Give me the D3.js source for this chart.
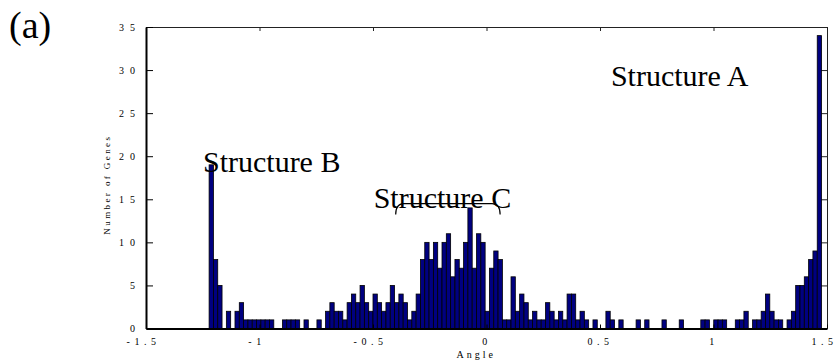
<!DOCTYPE html>
<html>
<head>
<meta charset="utf-8">
<script src="https://cdn.jsdelivr.net/npm/d3@7"></script>
<style>
  body { margin: 0; background: #fff; }
  text { font-family: "Liberation Serif", "Times New Roman", serif; fill: #000; }
</style>
</head>
<body>
<script>
// histogram of gene angles
// counts per bin, left to right, first bin starts at binStart
const binStart = -1.222;
const binWidth = 0.019;
const counts = [
  19, 8, 5, 0, 2, 0, 2, 3, 1, 1, 1, 1, 1, 1, 1, 0, 0, 1, 1, 1, 1, 0, 1, 0, 0, 1, 0, 2, 3, 2,
  2, 1, 3, 4, 3, 5, 3, 2, 4, 3, 2, 3, 5, 3, 4, 3, 1, 2, 4, 8, 10, 8, 10, 7, 10, 11, 6, 8, 7, 10,
  14, 7, 11, 10, 2, 7, 9, 8, 1, 1, 6, 2, 4,
  3, 1, 2, 1, 1, 3, 2, 1, 2, 1, 4, 4, 1, 2, 1, 0, 1, 0, 0, 2, 1, 0, 1, 0, 0, 0, 1, 0, 1, 0, 0, 0, 1,
  0, 0, 0, 1, 0, 0, 0, 0, 1, 1, 0, 1, 1, 1, 0, 0, 1, 1, 2, 0, 1, 1, 2, 4, 2, 1, 1, 0, 1, 2,
  5, 5, 6, 8, 9, 34
];
const xTicks = [-1.5, -1, -0.5, 0, 0.5, 1, 1.5];
const yTicks = [0, 5, 10, 15, 20, 25, 30, 35];

// annotations: label, x (angle), y (genes)
const notes = [
  {label: "Structure A", x: 0.548, y: 28.2},
  {label: "Structure B", x: -1.249, y: 18.2},
  {label: "Structure C", x: -0.497, y: 14.0}
];
const braceC = [-0.40, 0.06]; // span of structure C

let margin, width, height, svg, x, y;

setupCanvasSize();
appendSvg("body");
setupScales();
appendFrame();
appendBars();
appendAxes();
appendLabels();

function setupCanvasSize() {
  margin = {top: 27, left: 146, bottom: 35.5, right: 10};
  width = 837 - margin.left - margin.right;
  height = 364 - margin.top - margin.bottom;
}

function appendSvg(domElement) {
  let root = d3.select(domElement).append("svg")
    .attr("width", 837)
    .attr("height", 364);

  root.append("text")
    .attr("x", 9)
    .attr("y", 38)
    .style("font-size", "38px")
    .text("(a)");

  svg = root.append("g")
    .attr("transform", `translate(${margin.left}, ${margin.top})`);
}

function setupScales() {
  x = d3.scaleLinear().domain([-1.5, 1.5]).range([0, width]);
  y = d3.scaleLinear().domain([0, 35]).range([height, 0]);
}

function appendFrame() {
  // thin top and right border with inward ticks
  let top = svg.append("g")
    .call(d3.axisTop(x).tickValues(xTicks).tickSize(-4).tickSizeOuter(0).tickFormat(""));
  let right = svg.append("g")
    .attr("transform", `translate(${width},0)`)
    .call(d3.axisRight(y).tickValues(yTicks).tickSize(-6).tickSizeOuter(0).tickFormat(""));
  [top, right].forEach(g => {
    g.selectAll("path, line").attr("stroke", "#222").attr("stroke-width", 1);
  });
}

function appendBars() {
  let bw = x(binWidth) - x(0);
  svg.selectAll("rect.bar")
    .data(counts.map((c, i) => ({x0: binStart + i * binWidth, n: c})).filter(d => d.n > 0))
    .enter().append("rect")
    .attr("class", "bar")
    .attr("x", d => x(d.x0))
    .attr("y", d => y(d.n))
    .attr("width", bw)
    .attr("height", d => y(0) - y(d.n))
    .style("fill", "#000080")
    .style("stroke", "#000")
    .style("stroke-width", 0.8);
}

function appendAxes() {
  let left = svg.append("g")
    .call(d3.axisLeft(y).tickValues(yTicks).tickSize(-7).tickSizeOuter(0).tickPadding(5));
  left.selectAll("text")
    .style("font-size", "10px")
    .style("letter-spacing", "6px")
    .style("font-family", "'Liberation Serif', serif");

  let bottom = svg.append("g")
    .attr("transform", `translate(0,${height})`)
    .call(d3.axisBottom(x).tickValues(xTicks).tickSize(-4).tickSizeOuter(0).tickPadding(9)
      .tickFormat(d => d3.format("")(d).replace("−", "-")));
  bottom.selectAll("text")
    .style("font-size", "10px")
    .style("letter-spacing", "4.5px")
    .style("font-family", "'Liberation Serif', serif")
    .attr("dx", d => d < 0 ? -3 : (d === 1.5 ? -3 : 0));

  [left, bottom].forEach(g => {
    g.select(".domain").attr("stroke", "#000").attr("stroke-width", 2);
    g.selectAll(".tick line").attr("stroke", "#000");
  });
}

function appendLabels() {
  svg.append("text")
    .attr("x", x(-0.045))
    .attr("y", height + 29)
    .attr("text-anchor", "middle")
    .style("font-size", "10px")
    .style("letter-spacing", "3px")
    .text("Angle");

  svg.append("text")
    .attr("transform", `translate(${-36},${y(16.7)}) rotate(-90)`)
    .attr("text-anchor", "middle")
    .style("font-size", "9px")
    .style("letter-spacing", "2.4px")
    .text("Number of Genes");

  svg.selectAll("text.note")
    .data(notes)
    .enter().append("text")
    .attr("class", "note")
    .attr("x", d => x(d.x))
    .attr("y", d => y(d.y))
    .style("font-size", "30px")
    .text(d => d.label);

  // curly bracket over structure C
  let x0 = x(braceC[0]), x1 = x(braceC[1]), yb = y(14.5), drop = 11;
  svg.append("path")
    .attr("d", `M${x0},${yb + drop} Q${x0},${yb} ${x0 + 8},${yb} L${x1 - 8},${yb} Q${x1},${yb} ${x1},${yb + drop}`)
    .attr("fill", "none")
    .attr("stroke", "#000")
    .attr("stroke-width", 1.2);
}
</script>
</body>
</html>
